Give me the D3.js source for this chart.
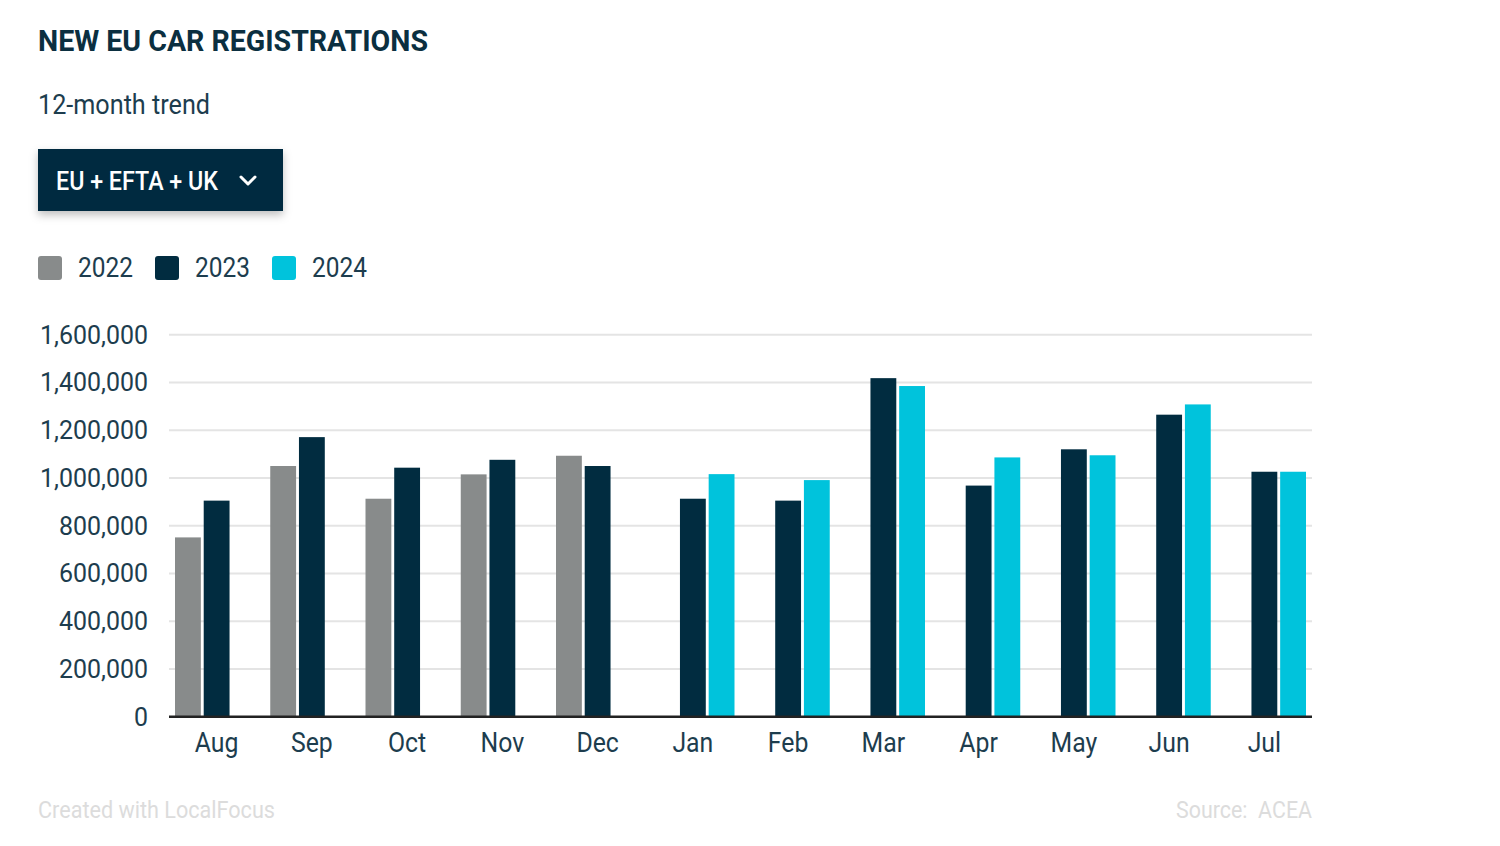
<!DOCTYPE html>
<html>
<head>
<meta charset="utf-8">
<script src="https://cdn.jsdelivr.net/npm/d3@7"></script>
<style>
  body { margin: 0; background: #fff; }
  text { font-family: Roboto, "Noto Sans", sans-serif; }
</style>
</head>
<body>
<script>
const width = 1500
const height = 846
const margin = ({top: 334.7, right: 188, bottom: 129.3, left: 169});

// data
const months = ["Aug", "Sep", "Oct", "Nov", "Dec", "Jan", "Feb", "Mar", "Apr", "May", "Jun", "Jul"];
const years = ["2022", "2023", "2024"];
const values2022 = [751000, 1050000, 913000, 1015000, 1093000, null, null, null, null, null, null, null];
const values2023 = [905000, 1171000, 1043000, 1076000, 1050000, 913000, 905000, 1418000, 968000, 1120000, 1265000, 1026000];
const values2024 = [null, null, null, null, null, 1016000, 991000, 1385000, 1086000, 1095000, 1308000, 1026000];
const yTicks = [0, 200000, 400000, 600000, 800000, 1000000, 1200000, 1400000, 1600000];

const colors = {"2022": "#888b8b", "2023": "#012c40", "2024": "#00c3dc"};
const textColor = "#1d3d4e";

const series = {"2022": values2022, "2023": values2023, "2024": values2024};
const rows = months.map((m, i) => ({month: m, values: years.map(yr => ({year: yr, value: series[yr][i]}))}));

const svg = d3.select("body").append("svg")
    .attr("width", width)
    .attr("height", height);

// header
svg.append("text")
    .attr("x", 38).attr("y", 51)
    .attr("fill", "#0b2f40")
    .attr("font-size", 29).attr("font-weight", 700)
    .attr("textLength", 390).attr("lengthAdjust", "spacingAndGlyphs")
    .text("NEW EU CAR REGISTRATIONS");

svg.append("text")
    .attr("x", 38).attr("y", 114)
    .attr("fill", textColor)
    .attr("font-size", 27)
    .attr("textLength", 172).attr("lengthAdjust", "spacingAndGlyphs")
    .text("12-month trend");

// dropdown button
const defs = svg.append("defs");
const shadow = defs.append("filter").attr("id", "shadow")
    .attr("x", "-10%").attr("y", "-20%").attr("width", "120%").attr("height", "160%");
shadow.append("feDropShadow")
    .attr("dx", 0).attr("dy", 4).attr("stdDeviation", 4)
    .attr("flood-color", "#000").attr("flood-opacity", 0.25);

const btn = svg.append("g").attr("transform", "translate(38,149)");
btn.append("rect")
    .attr("width", 245).attr("height", 62)
    .attr("fill", "#012b40")
    .attr("filter", "url(#shadow)");
btn.append("text")
    .attr("x", 18).attr("y", 41)
    .attr("fill", "#fff")
    .attr("font-size", 25).attr("font-weight", 500)
    .attr("textLength", 162).attr("lengthAdjust", "spacingAndGlyphs")
    .text("EU + EFTA + UK");
btn.append("path")
    .attr("d", "M203,28 L210,35 L217,28")
    .attr("fill", "none").attr("stroke", "#fff")
    .attr("stroke-width", 3).attr("stroke-linecap", "round").attr("stroke-linejoin", "round");

// legend
const legendX = [38, 155, 272];
const legend = svg.append("g").attr("transform", "translate(0,256)");
const li = legend.selectAll("g").data(years).join("g")
    .attr("transform", (d, i) => `translate(${legendX[i]},0)`);
li.append("rect")
    .attr("width", 24).attr("height", 24).attr("rx", 3)
    .attr("fill", d => colors[d]);
li.append("text")
    .attr("x", 40).attr("y", 21)
    .attr("fill", textColor)
    .attr("font-size", 27)
    .attr("textLength", 55).attr("lengthAdjust", "spacingAndGlyphs")
    .text(d => d);

// scales
const x0 = d3.scaleBand()
    .domain(months)
    .range([margin.left, width - margin.right])
    .paddingInner(0.126)
    .paddingOuter(0.063);

const x1 = d3.scaleBand()
    .domain(years)
    .range([0, x0.bandwidth()])
    .paddingInner(0.1);

const y = d3.scaleLinear()
    .domain([0, 1600000])
    .range([height - margin.bottom, margin.top]);

// grid
svg.append("g")
    .selectAll("line")
    .data(yTicks.slice(1))
    .join("line")
    .attr("x1", margin.left).attr("x2", width - margin.right)
    .attr("y1", d => y(d)).attr("y2", d => y(d))
    .attr("stroke", "#e4e4e4").attr("stroke-width", 2);

// y axis labels (condensed a little, like the original face)
const sx = 0.96;
const yAxis = g => g
    .attr("transform", `translate(${margin.left},0)`)
    .call(d3.axisLeft(y).tickValues(yTicks).tickFormat(d3.format(",")).tickSize(0).tickPadding(21))
    .call(g => g.select(".domain").remove())
    .call(g => g.selectAll("text")
        .attr("fill", textColor)
        .attr("font-size", 26)
        .attr("font-family", "Roboto, sans-serif")
        .attr("transform", `scale(${sx},1)`)
        .attr("x", -21 / sx));

svg.append("g").call(yAxis);

// bars
svg.append("g")
    .selectAll("g")
    .data(rows)
    .join("g")
    .attr("transform", d => `translate(${x0(d.month)},0)`)
    .selectAll("rect")
    .data(d => d.values.filter(v => v.value != null))
    .join("rect")
    .attr("x", d => x1(d.year))
    .attr("width", x1.bandwidth())
    .attr("y", d => y(d.value))
    .attr("height", d => y(0) - y(d.value))
    .attr("fill", d => colors[d.year]);

// x axis
const xAxis = g => g
    .attr("transform", `translate(0,${height - margin.bottom})`)
    .call(d3.axisBottom(x0).tickSize(0).tickPadding(16))
    .call(g => g.select(".domain")
        .attr("stroke", "#222").attr("stroke-width", 2.5)
        .attr("d", `M${margin.left},0H${width - margin.right}`))
    .call(g => g.selectAll(".tick text")
        .attr("fill", textColor)
        .attr("font-size", 27)
        .attr("font-family", "Roboto, sans-serif")
        .attr("transform", "scale(0.92,1)"))
    .call(g => g.selectAll(".tick")
        .attr("transform", d => `translate(${(x0(d) + x0.bandwidth() / 2) },0)`));

svg.append("g").call(xAxis);

// footer
svg.append("text")
    .attr("x", 38).attr("y", 818)
    .attr("fill", "#dcdcdc")
    .attr("font-size", 24)
    .attr("textLength", 237).attr("lengthAdjust", "spacingAndGlyphs")
    .text("Created with LocalFocus");

svg.append("text")
    .attr("x", 1176).attr("y", 818)
    .attr("fill", "#dcdcdc")
    .attr("font-size", 24)
    .attr("textLength", 136).attr("lengthAdjust", "spacingAndGlyphs")
    .text("Source:\u00a0 ACEA");
</script>
</body>
</html>
